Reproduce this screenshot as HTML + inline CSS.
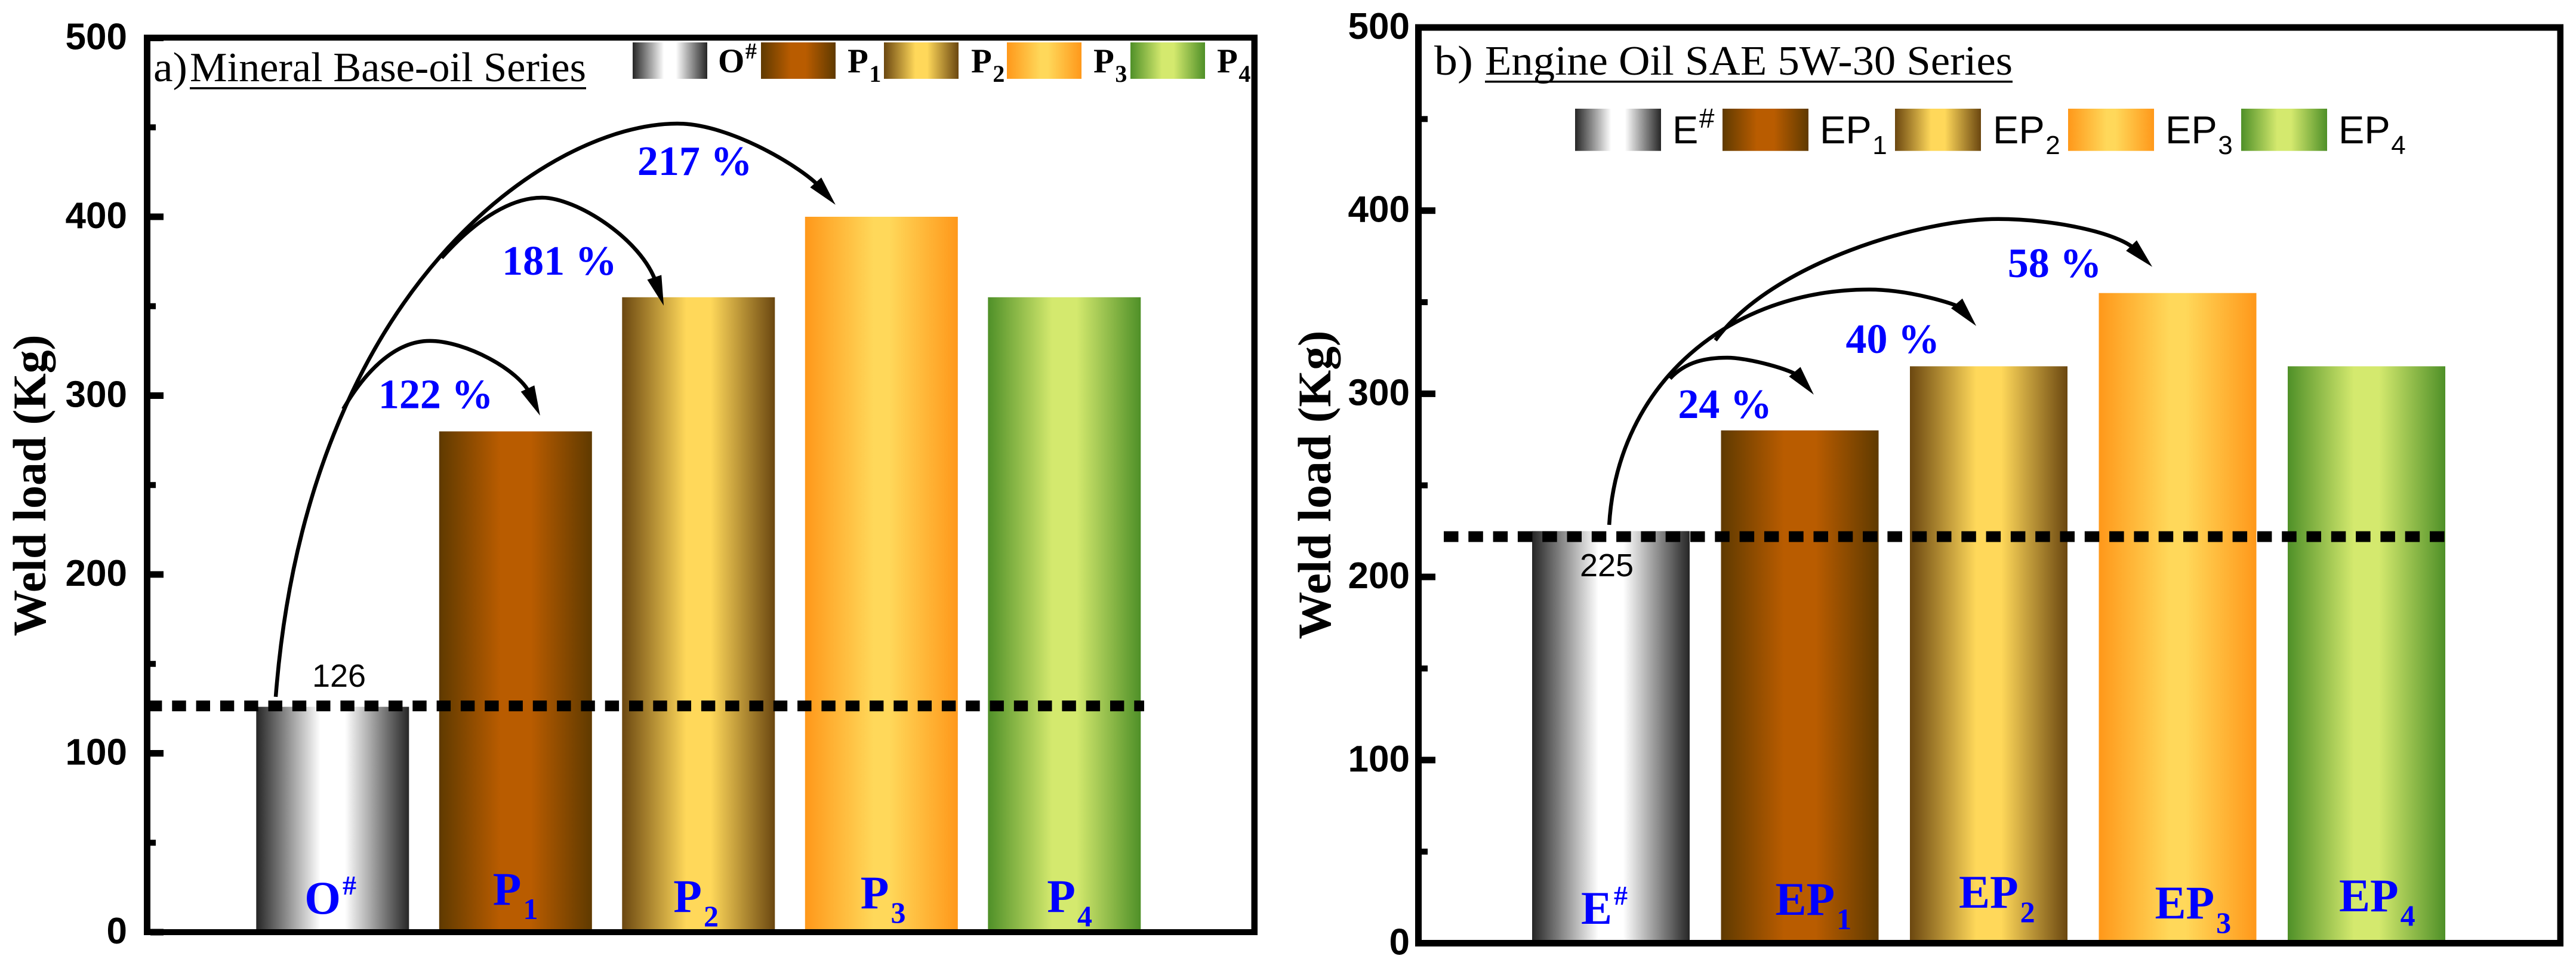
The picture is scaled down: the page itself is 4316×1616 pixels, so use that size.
<!DOCTYPE html>
<html lang="en">
<head>
<meta charset="utf-8">
<title>Weld load charts</title>
<style>
html,body{margin:0;padding:0;background:#fff;}
svg{display:block;}
.serif{font-family:"Liberation Serif",serif;}
.sans{font-family:"Liberation Sans",sans-serif;}
</style>
</head>
<body>
<svg id="chart" xmlns="http://www.w3.org/2000/svg" width="4316" height="1616" viewBox="0 0 4316 1616">
<defs>
<linearGradient id="g0"><stop offset="0" stop-color="#262626"/><stop offset=".42" stop-color="#fff"/><stop offset=".58" stop-color="#fff"/><stop offset="1" stop-color="#262626"/></linearGradient>
<linearGradient id="g1"><stop offset="0" stop-color="#5f3a00"/><stop offset=".4" stop-color="#b95c00"/><stop offset=".6" stop-color="#b95c00"/><stop offset="1" stop-color="#5f3a00"/></linearGradient>
<linearGradient id="g2"><stop offset="0" stop-color="#6b4710"/><stop offset=".42" stop-color="#ffd85a"/><stop offset=".58" stop-color="#ffd85a"/><stop offset="1" stop-color="#6b4710"/></linearGradient>
<linearGradient id="g3"><stop offset="0" stop-color="#ff981a"/><stop offset=".45" stop-color="#ffd85a"/><stop offset=".55" stop-color="#ffd85a"/><stop offset="1" stop-color="#ff981a"/></linearGradient>
<linearGradient id="g4"><stop offset="0" stop-color="#4f9028"/><stop offset=".42" stop-color="#d4e96e"/><stop offset=".58" stop-color="#d4e96e"/><stop offset="1" stop-color="#4f9028"/></linearGradient>
</defs>
</svg>
<script>
// ---------- chart data ----------
const yTickValues = [0, 100, 200, 300, 400, 500];
const yMinorValues = [50, 150, 250, 350, 450];

const mineralCategories = ['O#', 'P1', 'P2', 'P3', 'P4'];
const mineralValues = [126, 280, 355, 400, 355];
const mineralBaseline = 126.5;
const mineralPercentText = ['122 %', '181 %', '217 %'];
const mineralPercentCat = [0.564, 1.24, 1.98];
const mineralPercentVal = [293, 367.6, 423.4];
// annotation curves: Bezier knots in data units [category position, weld load]
const mineralArrow1 = [[0.058,292.5],[0.172,312.5],[0.335,330.6],[0.531,330.6],[0.727,330.6],[1.02,314.2],[1.134,288.8]];
const mineralArrow2 = [[0.596,377],[0.759,395.7],[0.955,410.7],[1.145,410.7],[1.33,410.7],[1.689,387.6],[1.81,350.3]];
const mineralArrow3 = [[-0.311,131.6],[-0.138,360.9],[1.183,452.1],[1.884,452.1],[2.178,452.1],[2.576,426.7],[2.749,406.7]];

const engineCategories = ['E#', 'EP1', 'EP2', 'EP3', 'EP4'];
const engineValues = [225, 280, 315, 355, 315];
const engineBaseline = 222;
const enginePercentText = ['24 %', '40 %', '58 %'];
const enginePercentCat = [0.604, 1.492, 2.349];
const enginePercentVal = [286.8, 322.3, 363.7];
const engineArrow1 = [[0.313,308.3],[0.398,317.8],[0.509,319.7],[0.616,319.7],[0.73,319.7],[0.967,312.8],[1.074,299.5]];
const engineArrow2 = [[-0.009,228.4],[0.035,306.3],[0.635,356.9],[1.368,356.9],[1.583,356.9],[1.836,348.7],[1.934,337]];
const engineArrow3 = [[0.553,329.2],[0.856,371.6],[1.646,395.4],[2.051,395.4],[2.341,395.4],[2.689,387.9],[2.866,369.3]];

// ---------- layout ----------
const svg = document.getElementById('chart');
const NS = 'http://www.w3.org/2000/svg';
function mk(tag, attrs, parent, text) {
  const n = document.createElementNS(NS, tag);
  for (const k in attrs) n.setAttribute(k, attrs[k]);
  if (text !== undefined) n.textContent = text;
  (parent || svg).appendChild(n);
  return n;
}
function bezier(p) {
  let d = 'M' + p[0][0] + ' ' + p[0][1];
  for (let i = 1; i + 2 < p.length; i += 3) {
    d += ' C' + p[i].join(' ') + ' ' + p[i + 1].join(' ') + ' ' + p[i + 2].join(' ');
  }
  return d;
}

function drawPanel(cfg) {
  const xAt = c => cfg.cat0 + c * cfg.pitch;
  const yAt = v => cfg.y0 - v * cfg.k;
  const g = mk('g', {});
  
  

  // bars
  cfg.categories.forEach((name, i) => {
    const bar = mk('rect', {x: xAt(i) - cfg.barW / 2, y: yAt(cfg.values[i]), width: cfg.barW, height: cfg.y0 - yAt(cfg.values[i]), fill: 'url(#g' + i + ')'}, g);
    
    
  });

  // frame
  const f = cfg.frame;
  const leftAxis = mk('rect', {x: f.l, y: f.t, width: f.lw, height: f.b - f.t, fill: '#000'}, g);
  
  
  const rightAxis = mk('rect', {x: f.r - f.rw, y: f.t, width: f.rw, height: f.b - f.t, fill: '#000'}, g);
  
  
  const topAxis = mk('rect', {x: f.l, y: f.t, width: f.r - f.l, height: f.th, fill: '#000'}, g);
  
  
  const bottomAxis = mk('rect', {x: f.l, y: f.b - f.th, width: f.r - f.l, height: f.th, fill: '#000'}, g);
  
  

  // ticks
  yTickValues.forEach(v => {
    const tick = mk('rect', {x: f.l + f.lw, y: yAt(v) - 5.5, width: cfg.majorLen, height: 11, fill: '#000'}, g);
    
    
    const lab = mk('text', {x: cfg.tickRight, y: yAt(v) + 19, 'text-anchor': 'end', 'font-size': 62, 'font-weight': 'bold', class: 'sans'}, g, String(v));
    
    
  });
  yMinorValues.forEach(v => {
    const tick = mk('rect', {x: f.l + f.lw, y: yAt(v) - 5, width: cfg.minorLen, height: 10, fill: '#000'}, g);
    
    
  });

  // y title
  const yt = mk('text', {transform: 'translate(' + cfg.titleX + ' ' + cfg.titleCy + ') rotate(-90)', 'text-anchor': 'middle', 'font-size': 78, 'font-weight': 'bold', class: 'serif', textLength: cfg.titleLen, lengthAdjust: 'spacingAndGlyphs'}, g, 'Weld load (Kg)');
  
  

  // baseline dashed line
  const dash = mk('line', {x1: cfg.dashX0, x2: cfg.dashX1, y1: yAt(cfg.baseline), y2: yAt(cfg.baseline), stroke: '#000', 'stroke-width': 18, 'stroke-dasharray': cfg.dashOn + ' ' + cfg.dashOff}, g);
  
  

  // base value label
  const bv = mk('text', {x: cfg.baseLabelX, y: cfg.baseLabelY, 'text-anchor': 'middle', 'font-size': 54, class: 'sans'}, g, String(cfg.values[0]));
  
  

  // arrows
  cfg.arrows.forEach(pts => {
    const p = pts.map(q => [xAt(q[0]), yAt(q[1])]);
    const n = p.length;
    const tip = p[n - 1], prev = p[n - 2];
    const L = Math.hypot(tip[0] - prev[0], tip[1] - prev[1]);
    const ux = (tip[0] - prev[0]) / L, uy = (tip[1] - prev[1]) / L;
    const line = p.slice();
    line[n - 1] = [tip[0] - ux * 40, tip[1] - uy * 40];
    const path = mk('path', {d: bezier(line), fill: 'none', stroke: '#000', 'stroke-width': 6.5}, g);
    
    
    const nx = -uy, ny = ux, len = 50, half = 12.5;
    const bx = tip[0] - ux * len, by = tip[1] - uy * len;
    const head = mk('polygon', {points: [tip, [bx + nx * half, by + ny * half], [bx - nx * half, by - ny * half]].map(q => q.join(',')).join(' '), fill: '#000'}, g);
    
    
  });

  // percent labels
  cfg.percentText.forEach((t, i) => {
    const lab = mk('text', {x: xAt(cfg.percentCat[i]), y: yAt(cfg.percentVal[i]), 'text-anchor': 'middle', 'font-size': 70, 'font-weight': 'bold', fill: '#0000ff', class: 'serif'}, g, t);
    
    
  });

  // in-bar labels
  cfg.categories.forEach((name, i) => {
    const t = mk('text', {x: xAt(i) + cfg.barLabelDx[i], y: cfg.barLabelY[i], 'font-size': 78, 'font-weight': 'bold', fill: '#0000ff', class: 'serif'}, g);
    
    
    const isHash = name.endsWith('#');
    mk('tspan', {}, t, name.slice(0, -1));
    mk('tspan', {dx: 3, dy: isHash ? -32 : 24, 'font-size': isHash ? 46 : 50}, t, name.slice(-1));
  });

  // panel title
  const pa = mk('text', {x: cfg.tagX, y: cfg.headY, 'font-size': 70, class: 'serif', textLength: cfg.tagW, lengthAdjust: 'spacingAndGlyphs'}, g, cfg.tag);
  
  
  const head = mk('text', {x: cfg.headX, y: cfg.headY, 'font-size': 70, class: 'serif', textLength: cfg.headW, lengthAdjust: 'spacingAndGlyphs'}, g, cfg.head);
  
  
  const ul = mk('rect', {x: cfg.headX, y: cfg.headY + 10, width: cfg.headW, height: 3.5, fill: '#000'}, g);
  
  

  // legend
  cfg.categories.forEach((name, i) => {
    const sw = mk('rect', {x: cfg.legSwX[i], y: cfg.legY, width: cfg.legSwW, height: cfg.legSwH, fill: 'url(#g' + i + ')'}, g);
    
    
    const t = mk('text', {x: cfg.legTxtX[i], y: cfg.legBase, 'font-size': cfg.legFont, 'font-weight': cfg.legWeight, class: cfg.legClass}, g);
    
    
    const isHash = name.endsWith('#');
    mk('tspan', {}, t, name.slice(0, -1));
    mk('tspan', {dx: 1.5, dy: isHash ? cfg.legUp : cfg.legDown, 'font-size': isHash ? cfg.legHash : cfg.legSub}, t, name.slice(-1));
  });
}

drawPanel({
  key: 'mineral',
  categories: mineralCategories, values: mineralValues, baseline: mineralBaseline,
  percentText: mineralPercentText, percentCat: mineralPercentCat, percentVal: mineralPercentVal,
  arrows: [mineralArrow1, mineralArrow2, mineralArrow3],
  cat0: 557.3, pitch: 306.5, barW: 256, y0: 1561, k: 2.995,
  frame: {l: 241, r: 2107, t: 58, b: 1566, lw: 11, rw: 10.5, th: 10},
  majorLen: 22, minorLen: 9, tickRight: 213,
  titleX: 76, titleCy: 813, titleLen: 505,
  dashX0: 248, dashX1: 1917, dashOn: 23.4, dashOff: 16.9,
  baseLabelX: 568, baseLabelY: 1150,
  barLabelDx: [-47, -38, -42, -35, -29], barLabelY: [1530, 1515, 1527, 1521, 1527],
  tag: 'a)', tagX: 257, tagW: 57, head: 'Mineral Base-oil Series', headX: 318, headW: 664, headY: 136,
  legSwX: [1060, 1275, 1481, 1687, 1894], legTxtX: [1203, 1420, 1627, 1832, 2039],
  legY: 71, legSwW: 125, legSwH: 61, legBase: 121, legFont: 57, legWeight: 'bold', legClass: 'serif', legSub: 40, legHash: 38, legUp: -23, legDown: 16
});

drawPanel({
  key: 'engine',
  categories: engineCategories, values: engineValues, baseline: engineBaseline,
  percentText: enginePercentText, percentCat: enginePercentCat, percentVal: enginePercentVal,
  arrows: [engineArrow1, engineArrow2, engineArrow3],
  cat0: 2699, pitch: 316.5, barW: 264, y0: 1579.5, k: 3.067,
  frame: {l: 2371, r: 4295, t: 40.5, b: 1585, lw: 11, rw: 10.5, th: 11},
  majorLen: 23, minorLen: 10, tickRight: 2362,
  titleX: 2229, titleCy: 812, titleLen: 517,
  dashX0: 2419, dashX1: 4098, dashOn: 24.5, dashOff: 16.8,
  baseLabelX: 2692, baseLabelY: 965,
  barLabelDx: [-50, -41, -50, -38, -46], barLabelY: [1547, 1532, 1520, 1538, 1526],
  tag: 'b)', tagX: 2403, tagW: 65, head: 'Engine Oil SAE 5W-30 Series', headX: 2488, headW: 884, headY: 125,
  legSwX: [2639, 2886, 3175, 3465, 3755], legTxtX: [2802, 3049, 3339, 3628, 3918],
  legY: 182, legSwW: 144, legSwH: 70.7, legBase: 240, legFont: 65, legWeight: 'normal', legClass: 'sans', legSub: 44, legHash: 46, legUp: -26, legDown: 18
});
</script>
</body>
</html>
